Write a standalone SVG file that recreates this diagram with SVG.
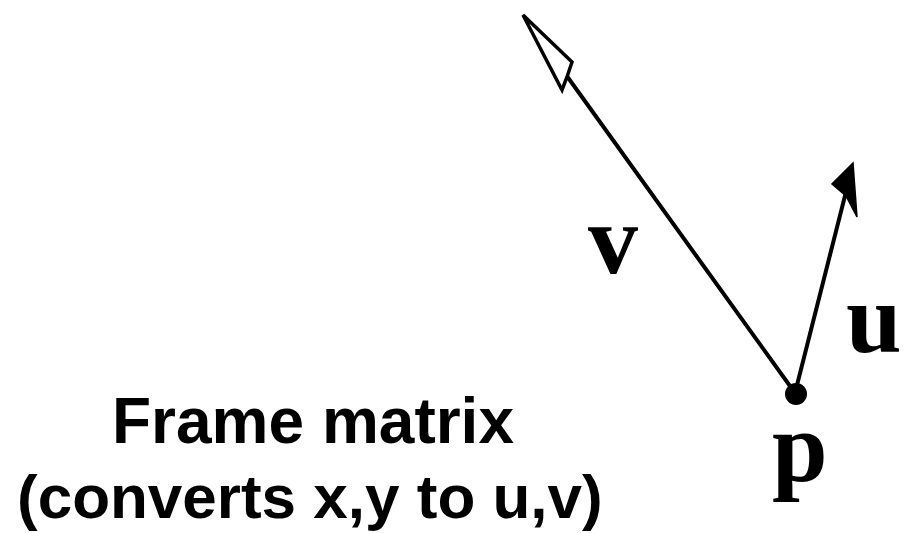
<svg xmlns="http://www.w3.org/2000/svg" width="914" height="533" viewBox="0 0 914 533">
<style>
.vec{stroke:#000;stroke-width:4;fill:none;stroke-linecap:round}
.lbl{font-family:"Liberation Serif","Times New Roman",serif;font-weight:bold;font-size:100px;fill:#000}
.cap{font-family:"Liberation Sans",Arial,sans-serif;font-weight:bold;fill:#000}
</style>
<rect width="914" height="533" fill="#fff"/>
<g id="connectors">
<line class="vec" x1="795" y1="393" x2="528" y2="22"/>
<path d="M523,15 L572,62 L567,77 L562,90 Z" fill="#fff" stroke="#000" stroke-width="3.5" stroke-linejoin="miter"/>
<line class="vec" x1="795" y1="393" x2="849" y2="180"/>
<path d="M853,163 L832,184 L846,196 L857,217 Z" fill="#000" stroke="#000" stroke-width="1.5"/>
</g>
<g id="p">
<circle cx="796" cy="394" r="11" fill="#000"/>
<text class="lbl" x="772" y="481">p</text>
</g>
<g id="v"><text class="lbl" x="588" y="273">v</text></g>
<g id="u"><text class="lbl" x="846" y="352">u</text></g>
<g id="caption">
<text class="cap" x="112" y="443" font-size="64">Frame matrix</text>
<text class="cap" x="17" y="518" font-size="62">(converts x,y to u,v)</text>
</g>
</svg>
